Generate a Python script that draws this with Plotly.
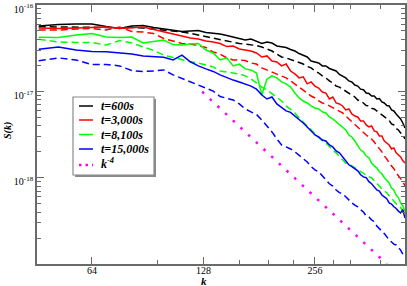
import math
import plotly.graph_objects as go

# ---------------- data ----------------
k = [46, 52, 58, 64, 70, 76, 82, 88, 94, 100, 106, 112, 118, 124, 130, 136, 142, 148,
     154, 160, 166, 172, 178, 184, 190, 196, 202, 208, 214, 220, 226, 232, 238, 244,
     250, 256, 262, 268, 274, 280, 286, 292, 298, 304, 310, 316, 322, 328, 334, 340,
     346, 352, 358, 364, 370, 376, 382, 388, 394, 400, 406, 412, 418, 424, 430, 436,
     442, 448]

SCALE = 1e-18  # values below are S(k) in units of 1e-18

t600_solid = [57.1, 59.4, 60.2, 60.2, 56.3, 53.4, 57.1, 57.9, 54.9, 52.7,
              50.6, 49.3, 50.0, 50.6, 48.0, 47.4, 46.1, 44.3, 42.6, 40.9,
              39.3, 40.4, 38.3, 35.8, 37.3, 36.3, 33.5, 32.6, 32.2, 30.5,
              29.3, 27.4, 26.3, 25.0, 22.4, 21.9, 21.3, 19.7, 19.7, 18.4,
              17.7, 17.2, 15.7, 15.1, 14.3, 13.2, 12.85, 11.84, 11.5, 10.6,
              10.45, 9.55, 9.43, 8.83, 8.83, 8.15, 8.26, 7.53, 7.33, 6.86,
              6.77, 6.08, 5.93, 5.47, 5.18, 4.79, 4.30, 3.77]
t600_dash = [56.0, 55.6, 56.3, 55.6, 54.9, 54.1, 55.1, 54.1, 52.7, 51.3,
             50.0, 48.6, 47.0, 44.9, 43.2, 41.1, 39.8, 38.3, 36.8, 35.8,
             35.3, 34.8, 33.9, 32.6, 30.9, 29.3, 27.0, 25.0, 24.4, 23.4,
             22.7, 21.9, 20.7, 19.4, 18.7, 17.2, 16.3, 15.1, 14.3, 13.2,
             12.5, 11.5, 11.2, 10.6, 10.06, 9.55, 8.95, 8.60, 7.94, 7.73,
             7.33, 6.86, 6.77, 6.34, 6.25, 5.93, 5.62, 5.32, 5.05, 4.79,
             4.60, 4.19, 4.08, 3.72, 3.57, 3.30, 3.12, 2.81]
t3000_solid = [54.1, 53.4, 54.1, 54.9, 55.6, 53.4, 54.9, 55.6, 52.0, 49.3,
               46.1, 43.7, 41.5, 40.4, 38.3, 37.3, 35.8, 33.0, 33.5, 30.9,
               30.1, 29.3, 27.8, 25.0, 25.7, 22.4, 21.9, 19.7, 20.7, 17.2,
               15.9, 14.3, 14.7, 12.2, 12.85, 11.5, 10.9, 9.81, 9.55, 8.15,
               8.60, 7.33, 7.14, 6.77, 6.08, 6.25, 5.47, 5.18, 5.05, 4.54,
               4.54, 4.08, 3.87, 3.97, 3.48, 3.39, 3.04, 3.04, 2.66, 2.53,
               2.39, 2.15, 2.21, 1.94, 1.83, 1.74, 1.57, 1.48]
t3000_dash = [51.3, 51.3, 52.7, 53.4, 51.3, 55.6, 49.3, 48.6, 46.7, 40.9,
              38.3, 35.8, 35.3, 33.5, 32.2, 28.5, 27.0, 24.4, 23.1, 23.1,
              22.7, 21.3, 20.7, 18.7, 17.7, 16.7, 15.9, 15.1, 14.3, 13.2,
              12.2, 11.2, 10.4, 9.55, 8.83, 8.38, 7.73, 7.33, 7.14, 6.77,
              6.42, 6.08, 5.85, 5.62, 5.18, 4.79, 4.42, 4.08, 3.77, 3.57,
              3.30, 3.12, 2.96, 2.81, 2.59, 2.39, 2.15, 1.99, 1.78, 1.65,
              1.48, 1.37, 1.27, 1.14, 1.05, 1.00, 0.90, 0.80]
t8100_solid = [42.3, 42.0, 44.9, 46.7, 42.6, 42.0, 42.6, 36.3, 37.8, 39.3,
               34.8, 34.4, 35.3, 35.8, 30.1, 27.8, 23.1, 24.4, 19.7, 20.7,
               18.2, 17.7, 16.3, 9.07, 13.9, 15.1, 14.3, 12.85, 12.2, 11.2,
               9.55, 8.38, 7.73, 7.33, 6.77, 6.42, 6.25, 5.78, 5.62, 5.05,
               4.79, 4.42, 4.08, 3.87, 3.57, 3.12, 2.96, 2.66, 2.39, 2.09,
               1.99, 1.78, 1.70, 1.48, 1.37, 1.30, 1.17, 1.11, 1.00, 0.92,
               0.87, 0.76, 0.72, 0.63, 0.585, 0.51, 0.47, 0.41]
t8100_dash = [40.1, 37.3, 36.8, 36.8, 34.4, 38.8, 36.3, 32.6, 29.7, 26.3,
              24.7, 23.1, 22.0, 21.3, 20.2, 19.2, 17.2, 16.7, 16.1, 15.9,
              15.1, 13.9, 12.5, 11.2, 10.4, 9.31, 8.38, 7.73, 6.77, 6.08,
              5.62, 4.92, 4.42, 3.97, 3.57, 3.30, 2.96, 2.66, 2.53, 2.27,
              2.09, 1.94, 1.74, 1.61, 1.48, 1.45, 1.37, 1.30, 1.23, 1.17,
              1.11, 1.08, 1.02, 1.00, 0.92, 0.85, 0.80, 0.74, 0.70, 0.67,
              0.615, 0.57, 0.54, 0.495, 0.47, 0.45, 0.41, 0.39]
t15000_solid = [30.7, 32.6, 30.1, 28.9, 28.7, 27.8, 27.0, 25.7, 25.0, 24.8,
                23.1, 26.3, 22.0, 19.7, 18.2, 17.0, 15.5, 14.3, 13.5, 12.85,
                12.2, 11.5, 10.6, 9.07, 8.15, 8.60, 7.14, 6.42, 5.93, 5.70,
                5.18, 4.79, 4.30, 3.87, 3.48, 3.12, 2.96, 2.73, 2.66, 2.39,
                2.27, 2.04, 1.94, 1.74, 1.57, 1.41, 1.34, 1.27, 1.20, 1.08,
                1.02, 1.00, 0.90, 0.85, 0.78, 0.72, 0.70, 0.63, 0.60, 0.57,
                0.51, 0.495, 0.46, 0.44, 0.41, 0.39, 0.425, 0.34]
t15000_dash = [22.6, 24.4, 23.1, 20.4, 20.5, 19.7, 17.4, 17.0, 17.2, 17.7,
               15.5, 14.1, 13.0, 12.0, 11.05, 10.06, 8.71, 8.26, 7.94, 7.14,
               6.25, 5.78, 5.40, 4.66, 3.97, 3.39, 2.81, 2.39, 2.27, 2.15,
               1.99, 1.83, 1.65, 1.52, 1.34, 1.23, 1.17, 1.05, 0.94, 0.85,
               0.80, 0.72, 0.67, 0.65, 0.60, 0.55, 0.51, 0.48, 0.46, 0.425,
               0.40, 0.36, 0.35, 0.325, 0.31, 0.275, 0.26, 0.24, 0.225, 0.206,
               0.19, 0.18, 0.17, 0.166, 0.157, 0.145, 0.13, 0.124]

# k^-4 reference line (two end points)
ref_k = [127, 400]
ref_S = [9.9e-18, 1.0e-19]

labels = ["t=600s", "t=3,000s", "t=8,100s", "t=15,000s"]
colors = ["#000000", "#ff0000", "#00ff00", "#0000ff"]
solids = [t600_solid, t3000_solid, t8100_solid, t15000_solid]
dashes = [t600_dash, t3000_dash, t8100_dash, t15000_dash]

x_ticks = [64, 128, 256]
x_minor = [96, 160, 192, 224, 288, 320, 384]
y_ticks = [1e-18, 1e-17, 1e-16]
y_ticktext = ["10<sup>-18</sup>", "10<sup>-17</sup>", "10<sup>-16</sup>"]
y_minor = [m * 10.0 ** e for e in (-19, -18, -17) for m in range(2, 10)]

# ---------------- layout geometry ----------------
W, H = 407, 286
ML, MR, MT, MB = 37, 2, 5, 22
PW, PH = W - ML - MR, H - MT - MB


def px(x):
    return (x - ML) / PW


def py(y):
    return (H - MB - y) / PH


FONT = "Liberation Serif, Times New Roman, serif"
AXC = "#6a6a6a"

fig = go.Figure()
for lab, col, sol, das in zip(labels, colors, solids, dashes):
    fig.add_trace(go.Scatter(x=k, y=[v * SCALE for v in das], mode="lines",
                             line=dict(color=col, width=1.5, dash="7px,4px"),
                             showlegend=False, name=lab + " (dashed)"))
    fig.add_trace(go.Scatter(x=k, y=[v * SCALE for v in sol], mode="lines",
                             line=dict(color=col, width=1.5),
                             showlegend=False, name=lab))
fig.add_trace(go.Scatter(x=ref_k, y=ref_S, mode="lines",
                         line=dict(color="#ff00ff", width=2.5, dash="2.5px,8px"),
                         showlegend=False, name="k^-4"))

fig.update_xaxes(type="log", range=[math.log10(45.5), math.log10(448)],
                 automargin=False, ticklabelstandoff=-4,
                 tickmode="array", tickvals=x_ticks, ticktext=[str(v) for v in x_ticks],
                 ticks="inside", ticklen=7, tickwidth=1.2, tickcolor=AXC,
                 showline=True, linecolor=AXC, linewidth=1.6, mirror="ticks",
                 showgrid=False, zeroline=False,
                 tickfont=dict(family=FONT, size=10, color="black"),
                 minor=dict(tickmode="array", tickvals=x_minor, ticks="inside",
                            ticklen=4, tickwidth=1.2, tickcolor=AXC, showgrid=False))
fig.update_yaxes(type="log", range=[-19, -16],
                 automargin=False, ticklabeloverflow="allow", ticklabelshift=4,
                 tickmode="array", tickvals=y_ticks, ticktext=y_ticktext,
                 ticks="inside", ticklen=7, tickwidth=1.2, tickcolor=AXC,
                 showline=True, linecolor=AXC, linewidth=1.6, mirror="ticks",
                 showgrid=False, zeroline=False,
                 tickfont=dict(family=FONT, size=10, color="black"),
                 minor=dict(tickmode="array", tickvals=y_minor, ticks="inside",
                            ticklen=4, tickwidth=1.2, tickcolor=AXC, showgrid=False))

shapes = []
annotations = []
# legend box with shadow
shapes.append(dict(type="rect", xref="paper", yref="paper",
                   x0=px(75), x1=px(156), y0=py(177), y1=py(99),
                   fillcolor="#8a8a8a", line=dict(width=0), layer="above"))
shapes.append(dict(type="rect", xref="paper", yref="paper",
                   x0=px(73), x1=px(154), y0=py(175), y1=py(97),
                   fillcolor="white", line=dict(color="#8a8a8a", width=1.2), layer="above"))
rows = [106, 120, 134.5, 149, 165]
for i, (lab, col) in enumerate(zip(labels, colors)):
    shapes.append(dict(type="line", xref="paper", yref="paper",
                       x0=px(79), x1=px(93), y0=py(rows[i]), y1=py(rows[i]),
                       line=dict(color=col, width=1.5), layer="above"))
    annotations.append(dict(xref="paper", yref="paper", x=px(99), y=py(rows[i]),
                            xanchor="left", yanchor="middle", showarrow=False,
                            text="<b><i>" + lab + "</i></b>",
                            font=dict(family=FONT, size=12, color="black")))
shapes.append(dict(type="line", xref="paper", yref="paper",
                   x0=px(79), x1=px(93), y0=py(rows[4]), y1=py(rows[4]),
                   line=dict(color="#ff00ff", width=2.5, dash="2.5px,4px"), layer="above"))
annotations.append(dict(xref="paper", yref="paper", x=px(99), y=py(rows[4] - 2),
                        xanchor="left", yanchor="middle", showarrow=False,
                        text="<b><i>k</i></b><sup><b><i>-4</i></b></sup>",
                        font=dict(family=FONT, size=12, color="black")))
# axis titles
annotations.append(dict(xref="paper", yref="paper", x=px(8), y=py(131),
                        xanchor="center", yanchor="middle", showarrow=False,
                        textangle=-90, text="<b><i>S(k)</i></b>",
                        font=dict(family=FONT, size=10, color="black")))
annotations.append(dict(xref="paper", yref="paper", x=px(204), y=py(281),
                        xanchor="center", yanchor="middle", showarrow=False,
                        text="<b><i>k</i></b>",
                        font=dict(family=FONT, size=11, color="black")))

fig.update_layout(width=W, height=H,
                  margin=dict(l=ML, r=MR, t=MT, b=MB, pad=0, autoexpand=False),
                  paper_bgcolor="white", plot_bgcolor="white",
                  showlegend=False, shapes=shapes, annotations=annotations)

fig.write_html("out.html", config={"displayModeBar": False},
               post_script="document.body.style.margin='0';document.body.style.overflow='hidden';")
